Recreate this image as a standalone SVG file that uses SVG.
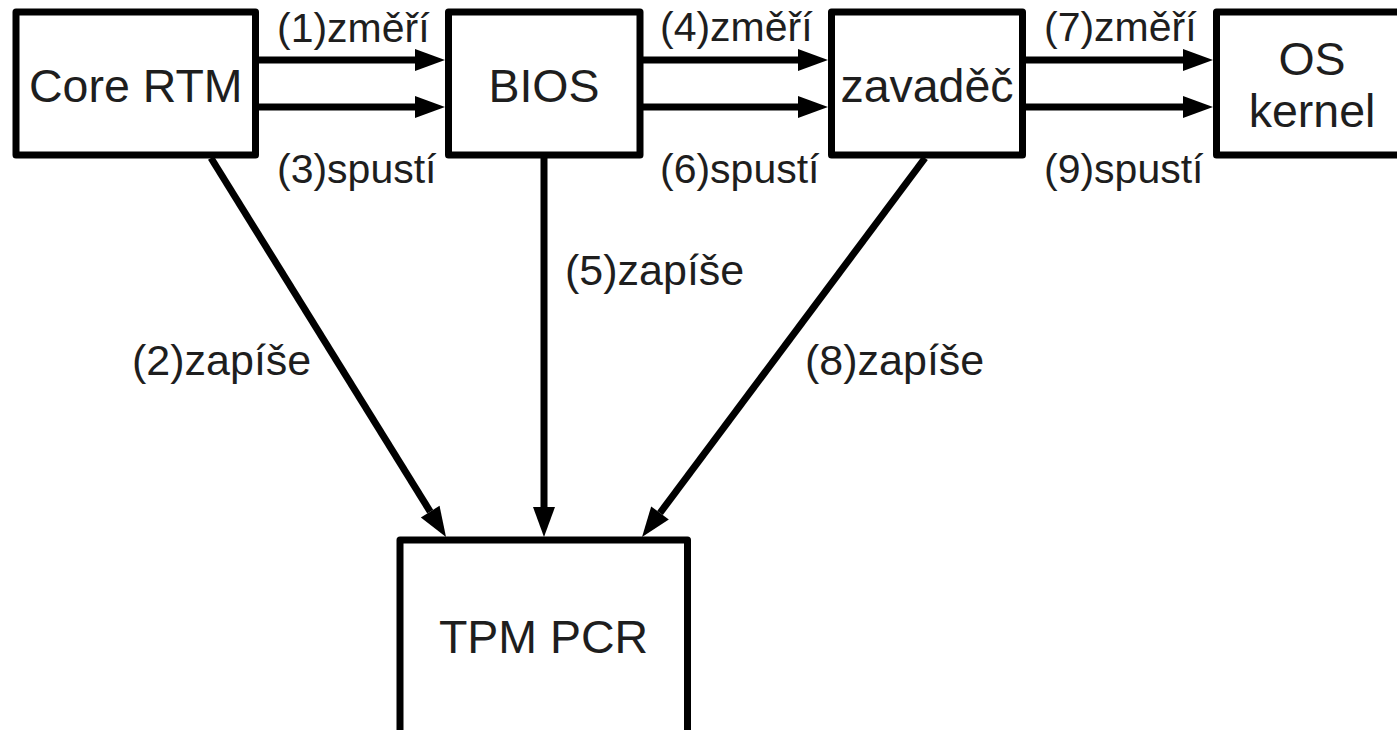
<svg xmlns="http://www.w3.org/2000/svg" width="1397" height="730" viewBox="0 0 1397 730">
<style>
.box{fill:#fff;stroke:#000;stroke-width:7;stroke-linejoin:round}
.ntext{font-family:"Liberation Sans",Arial,sans-serif;font-size:46.5px;fill:#1e1e1e;text-anchor:middle}
.lbl{font-family:"Liberation Sans",Arial,sans-serif;font-size:41px;fill:#1e1e1e}
.lbl2{font-family:"Liberation Sans",Arial,sans-serif;font-size:43px;fill:#1e1e1e}
.conn{stroke:#000;stroke-width:7;fill:none;marker-end:url(#ah)}
</style>
<defs>
<marker id="ah" markerUnits="userSpaceOnUse" markerWidth="30" markerHeight="22" refX="0" refY="11" orient="auto" overflow="visible">
<path d="M0,0 L30,11 L0,22 Z" fill="#000"/>
</marker>
</defs>
<rect width="1397" height="730" fill="#fff"/>
<g id="connectors">
<line class="conn" x1="259" y1="60" x2="415" y2="60"/>
<line class="conn" x1="259" y1="107" x2="415" y2="107"/>
<line class="conn" x1="643" y1="60" x2="798" y2="60"/>
<line class="conn" x1="643" y1="107" x2="798" y2="107"/>
<line class="conn" x1="1026" y1="60" x2="1183" y2="60"/>
<line class="conn" x1="1026" y1="107" x2="1183" y2="107"/>
<line class="conn" x1="211" y1="158" x2="430.2" y2="511.6"/>
<line class="conn" x1="544" y1="158" x2="544" y2="507"/>
<line class="conn" x1="925" y1="158" x2="660" y2="513"/>
</g>
<g id="labels">
<text class="lbl" x="277" y="42">(1)změří</text>
<text class="lbl" x="277" y="183">(3)spustí</text>
<text class="lbl" x="660" y="41">(4)změří</text>
<text class="lbl" x="660" y="183">(6)spustí</text>
<text class="lbl" x="1044" y="41">(7)změří</text>
<text class="lbl" x="1044" y="183">(9)spustí</text>
<text class="lbl2" x="132" y="375">(2)zapíše</text>
<text class="lbl2" x="565" y="285">(5)zapíše</text>
<text class="lbl2" x="805" y="375">(8)zapíše</text>
</g>
<g id="core-rtm">
<rect class="box" x="16" y="12" width="239.5" height="143"/>
<text class="ntext" x="135.75" y="101.5">Core RTM</text>
</g>
<g id="bios">
<rect class="box" x="448.5" y="12" width="191.5" height="143"/>
<text class="ntext" x="544" y="101.5">BIOS</text>
</g>
<g id="zavadec">
<rect class="box" x="831.5" y="12" width="191" height="143"/>
<text class="ntext" x="927" y="101.5">zavaděč</text>
</g>
<g id="os-kernel">
<rect class="box" x="1216.5" y="12" width="191" height="143"/>
<text class="ntext" x="1312" y="75">OS</text>
<text class="ntext" x="1312" y="126.5">kernel</text>
</g>
<g id="tpm-pcr">
<rect class="box" x="400" y="540" width="287.5" height="230"/>
<text class="ntext" x="543.5" y="653">TPM PCR</text>
</g>
</svg>
